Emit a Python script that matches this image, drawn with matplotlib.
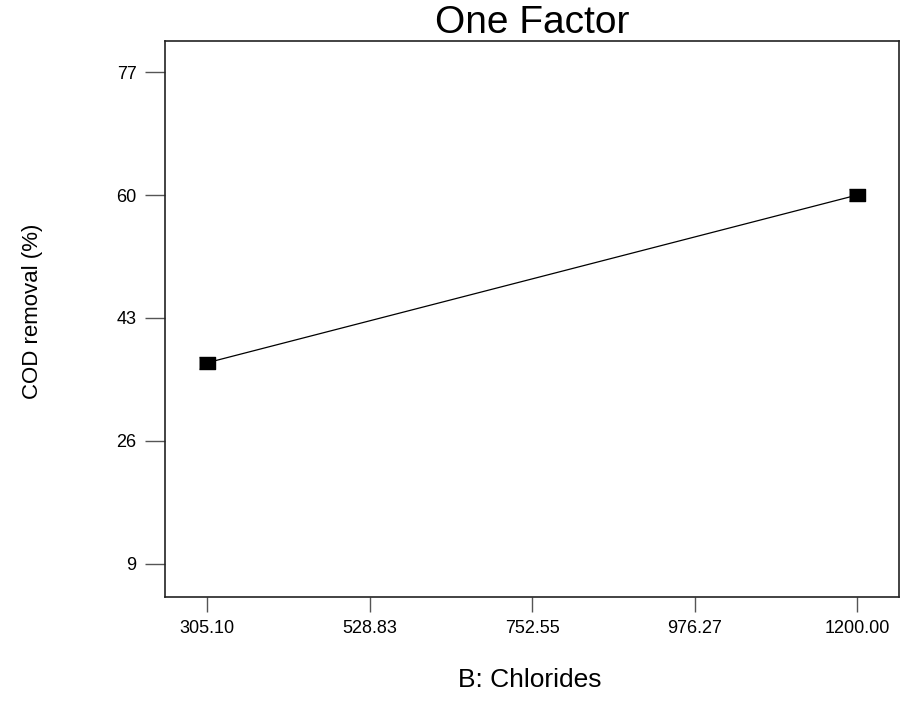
import matplotlib
matplotlib.use("Agg")
import matplotlib.pyplot as plt

plt.rcParams['font.family'] = ['Liberation Sans', 'DejaVu Sans']

chlorides = [305.10, 1200.00]
cod_removal = [36.8, 60.0]
xticks = [305.10, 528.83, 752.55, 976.27, 1200.00]
xtick_labels = ["305.10", "528.83", "752.55", "976.27", "1200.00"]
yticks = [9, 26, 43, 60, 77]

fig = plt.figure(figsize=(9.15, 7.14), dpi=100)
ax = fig.add_axes([165/915, 1-597/714, (899-165)/915, (597-41)/714])

rect = [(-1.33, -1), (1.33, -1), (1.33, 1), (-1.33, 1)]
ax.plot(chlorides, cod_removal, color='black', lw=0.9, marker=rect,
        markersize=11.5, markerfacecolor='black', markeredgecolor='black')

ax.set_xlim(247, 1257.4)
ax.set_ylim(4.4, 81.3)
ax.set_xticks(xticks)
ax.set_xticklabels(xtick_labels)
ax.set_yticks(yticks)
ax.tick_params(axis='x', direction='out', length=10.8, width=1, color='#555555',
               labelsize=13, pad=6)
ax.tick_params(axis='y', direction='out', length=14.4, width=1, color='#555555',
               labelsize=13, pad=6)
for s in ax.spines.values():
    s.set_linewidth(1.2)
    s.set_color('#222222')

ax.set_title("One Factor", fontsize=28, pad=2)
ax.set_xlabel("B: Chlorides", fontsize=19)
ax.xaxis.set_label_coords(0.497, -0.128)
ax.set_ylabel("COD removal (%)", fontsize=16)
ax.yaxis.set_label_coords(-0.166, 0.513)

fig.savefig("out.png", dpi=100)
